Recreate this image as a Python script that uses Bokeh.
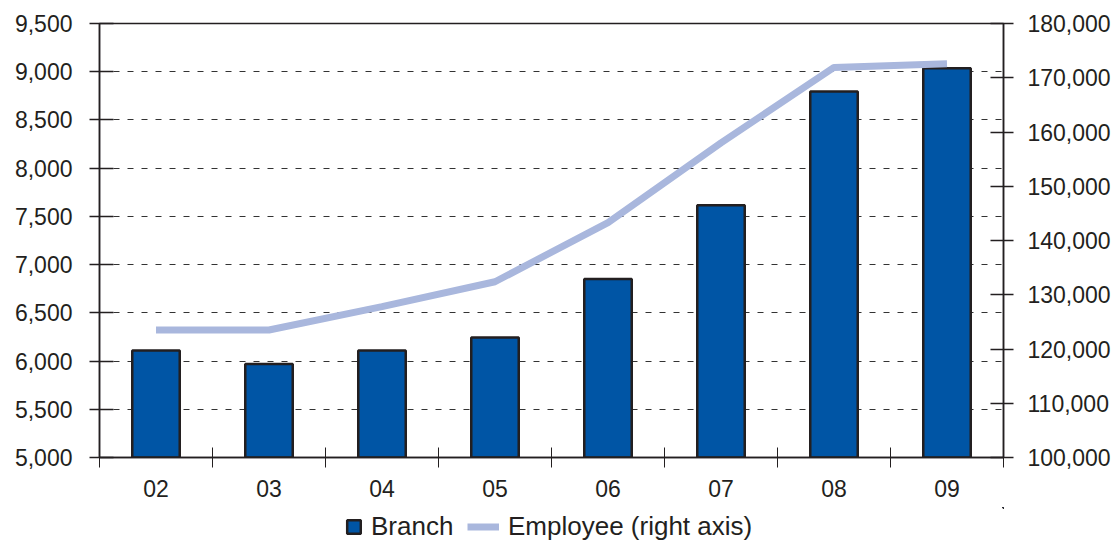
from bokeh.plotting import figure
from bokeh.layouts import column
from bokeh.models import (Range1d, LinearAxis, NumeralTickFormatter, FixedTicker,
                          SingleIntervalTicker, Legend, LegendItem)
from bokeh.embed import file_html
from bokeh.resources import INLINE

years = ["02", "03", "04", "05", "06", "07", "08", "09"]
branches = [6110, 5970, 6110, 6245, 6850, 7615, 8795, 9035]
employees = [123500, 123500, 127800, 132400, 143300, 158000, 171900, 172600]

left_min, left_max = 5000, 9500
right_min, right_max = 100000, 180000

FONT = "Liberation Sans"
TXT = "#231f20"
BAR = "#0055A5"
LINE = "#A9B7DD"
xs = list(range(len(years)))

p = figure(frame_width=904, frame_height=434, output_backend="svg", toolbar_location=None,
           x_range=Range1d(-0.5, len(years) - 0.5), y_range=Range1d(left_min, left_max),
           min_border_left=99, min_border_right=114, min_border_top=23, min_border_bottom=50)
p.title.visible = False
p.outline_line_color = TXT
p.outline_line_width = 1.5
p.background_fill_color = "white"

p.extra_y_ranges = {"emp": Range1d(right_min, right_max)}

bar_style = dict(fill_color=BAR, line_color=TXT, line_width=2.5)
line_style = dict(line_color=LINE, line_width=7)

p.vbar(x=xs, top=branches, bottom=left_min, width=0.42, **bar_style)
p.line(x=xs, y=employees, y_range_name="emp", **line_style)

# x axis
xa = p.xaxis[0]
xa.ticker = FixedTicker(ticks=xs, minor_ticks=[i - 0.5 for i in range(len(years) + 1)])
xa.major_label_overrides = {i: y for i, y in enumerate(years)}
xa.major_tick_line_color = None
xa.major_tick_in = 0
xa.major_tick_out = 10
xa.minor_tick_in = 10
xa.minor_tick_out = 10
xa.minor_tick_line_color = TXT
xa.minor_tick_line_width = 1
xa.major_label_standoff = 12

# left axis
ya = p.yaxis[0]
ya.ticker = SingleIntervalTicker(interval=500)
ya.formatter = NumeralTickFormatter(format="0,0")
ya.major_tick_in = 14
ya.major_tick_out = 10
ya.minor_tick_line_color = None
ya.major_label_standoff = 17

# right axis
ra = LinearAxis(y_range_name="emp", ticker=SingleIntervalTicker(interval=10000),
                formatter=NumeralTickFormatter(format="0,0"))
ra.major_tick_in = 13
ra.major_tick_out = 10
ra.minor_tick_line_color = None
ra.major_label_standoff = 14
p.add_layout(ra, "right")

for ax in (xa, ya, ra):
    ax.major_label_text_font = FONT
    ax.major_label_text_font_size = "23px"
    ax.major_label_text_color = TXT
    ax.axis_line_color = TXT
    ax.axis_line_width = 1.5
for ax in (ya, ra):
    ax.major_tick_line_color = TXT
    ax.major_tick_line_width = 1.5

p.xgrid.visible = False
p.ygrid.grid_line_color = "#333333"
p.ygrid.grid_line_dash = "6 8"
p.ygrid.grid_line_width = 1

# legend strip: a small figure whose own renderers lie outside its view
lf = figure(width=1117, height=35, output_backend="svg", toolbar_location=None,
            x_range=Range1d(-100, -99), y_range=Range1d(-100, -99),
            x_axis_location=None, y_axis_location=None,
            min_border_left=0, min_border_right=0, min_border_top=0, min_border_bottom=0)
lf.title.visible = False
lf.outline_line_color = None
lf.grid.visible = False
lbar = lf.vbar(x=xs, top=branches, bottom=left_min, width=0.42, **bar_style)
lline = lf.line(x=xs, y=employees, **line_style)

def make_legend(item, loc, gw):
    lg = Legend(items=[item], location=loc, orientation="horizontal")
    lg.glyph_width = gw
    lg.glyph_height = 17
    lg.label_standoff = 9
    lg.padding = 0
    lg.margin = 0
    lg.spacing = 0
    lg.border_line_color = None
    lg.background_fill_alpha = 0
    lg.label_text_font = FONT
    lg.label_text_font_size = "26px"
    lg.label_text_color = TXT
    lg.label_height = 17
    return lg

lf.add_layout(make_legend(LegendItem(label="Branch", renderers=[lbar]), (246, 0), 17))
lf.add_layout(make_legend(LegendItem(label="Employee (right axis)", renderers=[lline]), (368, 0), 32))

layout = column(p, lf, spacing=0)
open("out.html", "w").write(file_html(layout, INLINE))
